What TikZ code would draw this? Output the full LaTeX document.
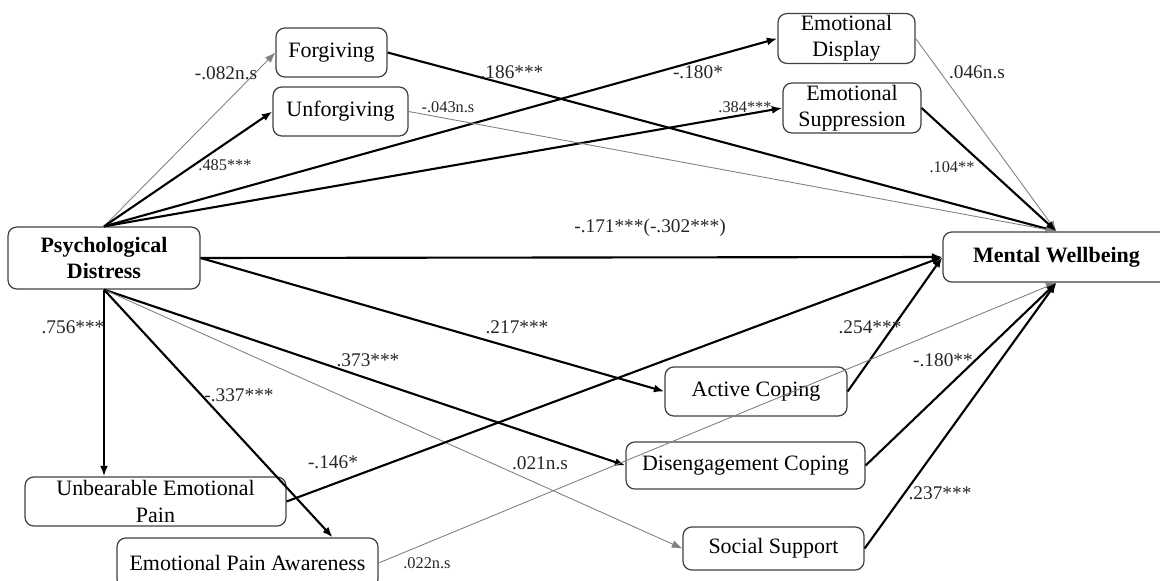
\documentclass[tikz,border=0pt]{standalone}
\usepackage{fontspec}
\setmainfont{Liberation Serif}
\usetikzlibrary{arrows.meta,calc}

\begin{document}
\begin{tikzpicture}[x=0.02cm, y=-0.02cm,
    main/.style = {draw=black!75, line width=0.7pt, rounded corners=5pt, align=center,
                   inner sep=1pt, font=\fontsize{12.5}{15}\selectfont},
    coef/.style = {inner sep=0pt, text=black!85, font=\fontsize{11}{13}\selectfont},
    coefs/.style = {inner sep=0pt, text=black!85, font=\fontsize{9.3}{11}\selectfont},
    sig/.style = {-{Latex[length=6pt,width=4.5pt]}, line width=1.2pt},
    ns/.style = {-{Latex[length=6pt,width=4.5pt]}, line width=0.5pt, gray}]
    \useasboundingbox (0,0) rectangle (1160,581);

    \node[main, minimum width=3.84cm, minimum height=1.24cm, font=\fontsize{12.5}{15}\selectfont\bfseries] (pd) at (104, 258) {Psychological\\Distress};
    \node[main, minimum width=4.54cm, minimum height=1cm, font=\fontsize{12.5}{15}\selectfont\bfseries] (mw) at (1056.5, 257) {Mental Wellbeing};

    \node[main, minimum width=2.22cm, minimum height=0.98cm] (forg) at (331.5, 52.5) {Forgiving};
    \node[main, minimum width=2.7cm, minimum height=0.98cm] (unforg) at (340.5, 111.5) {Unforgiving};
    \node[main, minimum width=2.74cm, minimum height=0.98cm] (edisp) at (846.5, 38.5) {Emotional\\Display};
    \node[main, minimum width=2.76cm, minimum height=1cm] (esupp) at (852, 108) {Emotional\\Suppression};

    \node[main, minimum width=3.64cm, minimum height=0.98cm] (acop) at (756, 391.5) {Active Coping};
    \node[main, minimum width=4.78cm, minimum height=0.94cm] (dcop) at (745.5, 465.5) {Disengagement Coping};
    \node[main, minimum width=3.62cm, minimum height=0.86cm] (ssup) at (773.5, 548.5) {Social Support};

    \node[main, minimum width=5.22cm, minimum height=0.98cm] (uep) at (155.5, 501.5) {Unbearable Emotional\\Pain};
    \node[main, minimum width=5.22cm, minimum height=1cm] (epa) at (247.5, 563) {Emotional Pain Awareness};

    % distress -> mediators
    \draw [ns] (pd.north) -> (forg.west);
    \draw [sig] (pd.north) -> (unforg.west);
    \draw [sig] (pd.north) -> (edisp.west);
    \draw [sig] (pd.north) -> (esupp.west);
    \draw [sig] (pd.east) -> (mw.west);
    \draw [sig] (pd.east) -> (acop.west);
    \draw [sig] (pd.south) -> (dcop.west);
    \draw [ns] (pd.south) -> (ssup.west);
    \draw [sig] (pd.south) -> (pd.south |- uep.north);
    \draw [sig] (pd.south) -> ($(epa.north)!0.65!(epa.north east)$);

    % mediators -> wellbeing
    \draw [sig] (forg.east) -> (mw.north);
    \draw [ns] (unforg.east) -> (mw.north);
    \draw [ns] (edisp.east) -> (mw.north);
    \draw [sig] (esupp.east) -> (mw.north);
    \draw [sig] (uep.east) -> (mw.west);
    \draw [sig] (acop.east) -> (mw.west);
    \draw [ns] (epa.east) -> (mw.south);
    \draw [sig] (dcop.east) -> (mw.south);
    \draw [sig] (ssup.east) -> (mw.south);

    \node[coef] (l1) at (226, 73) {-.082n.s};
    \node[coefs] (l2) at (225, 165) {.485***};
    \node[coef] (l3) at (698, 72) {-.180*};
    \node[coefs] (l4) at (745, 107) {.384***};
    \node[coef] (l5) at (650, 228) {-.171***(-.302***)};
    \node[coef] (l6) at (517, 327) {.217***};
    \node[coef] (l7) at (368, 360) {.373***};
    \node[coef] (l8) at (540, 463) {.021n.s};
    \node[coef] (l9) at (73, 327) {.756***};
    \node[coef] (l10) at (239, 395) {-.337***};

    \node[coef] (l11) at (512, 72) {.186***};
    \node[coefs] (l12) at (448, 107) {-.043n.s};
    \node[coef] (l13) at (977, 72) {.046n.s};
    \node[coefs] (l14) at (952, 167) {.104**};
    \node[coef] (l15) at (333, 462) {-.146*};
    \node[coef] (l16) at (870, 327) {.254***};
    \node[coefs] (l17) at (427, 563) {.022n.s};
    \node[coef] (l18) at (943, 360) {-.180**};
    \node[coef] (l19) at (940, 493) {.237***};
\end{tikzpicture}
\end{document}
